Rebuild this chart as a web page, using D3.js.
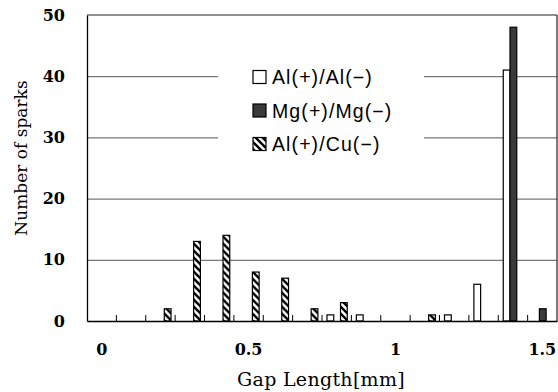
<!DOCTYPE html>
<html>
<head>
<meta charset="utf-8">
<script src="https://cdn.jsdelivr.net/npm/d3@7"></script>
<style>
  body { margin: 0; background: #fff; }
  svg { display: block; }
</style>
</head>
<body>
<svg id="chart"></svg>
<script>
// gap length bins (mm)
const categories = ['0', '0.1', '0.2', '0.3', '0.4', '0.5', '0.6', '0.7', '0.8', '0.9', '1', '1.1', '1.2', '1.3', '1.4', '1.5'];
const tickLabels = ['0', '0.5', '1', '1.5'];
const seriesNames = ['Al(+)/Al(−)', 'Mg(+)/Mg(−)', 'Al(+)/Cu(−)'];
const alAl = [0, 0, 0, 0, 0, 0, 0, 0, 1, 1, 0, 0, 1, 6, 41, 0];
const mgMg = [0, 0, 0, 0, 0, 0, 0, 0, 0, 0, 0, 0, 0, 0, 48, 2];
const alCu = [0, 0, 2, 13, 14, 8, 7, 2, 3, 0, 0, 1, 0, 0, 0, 0];
const yTicks = [0, 10, 20, 30, 40, 50];

const seriesValues = [alAl, mgMg, alCu];

const W = 558, H = 392;
const margin = { top: 15, right: 1, bottom: 71, left: 87 };
const width = W - margin.left - margin.right;
const height = H - margin.top - margin.bottom;

const svg = d3.select('#chart').attr('width', W).attr('height', H);

// hatch pattern for Al/Cu
const defs = svg.append('defs');
const pat = defs.append('pattern')
  .attr('id', 'hatch')
  .attr('patternUnits', 'userSpaceOnUse')
  .attr('width', 7).attr('height', 7);
pat.append('rect').attr('width', 7).attr('height', 7).attr('fill', '#fff');
pat.append('path')
  .attr('d', 'M-1,-1L8,8M-1,6L1,8M6,-1L8,1')
  .attr('stroke', '#000').attr('stroke-width', 2.4);

const fills = ['#fff', '#3a3a3a', 'url(#hatch)'];

const x = d3.scaleBand().domain(categories).range([0, width]).padding(0);
const bw = x.bandwidth();
const x1 = d3.scaleBand().domain(seriesNames).range([bw * 0.17, bw * 0.86]).padding(0);
const y = d3.scaleLinear().domain([0, 50]).range([height, 0]);

const chart = svg.append('g').attr('transform', `translate(${margin.left},${margin.top})`);

// gridlines
chart.append('g')
  .attr('class', 'grid')
  .call(d3.axisLeft(y).tickValues([10, 20, 30, 40]).tickSize(-width).tickFormat(''))
  .call(g => g.select('.domain').remove())
  .call(g => g.selectAll('line').attr('stroke', '#555').attr('stroke-width', 1));

// frame top/right
chart.append('line').attr('x1', 0).attr('x2', width).attr('y1', 0).attr('y2', 0)
  .attr('stroke', '#222').attr('stroke-width', 1.2);
chart.append('line').attr('x1', width).attr('x2', width).attr('y1', 0).attr('y2', height)
  .attr('stroke', '#222').attr('stroke-width', 1.2);

// bars
const rows = categories.map((c, i) => ({ c, vals: seriesValues.map((s, k) => ({ k, name: seriesNames[k], v: s[i] })) }));
const groups = chart.selectAll('g.cat')
  .data(rows)
  .enter()
  .append('g')
  .attr('class', 'cat')
  .attr('transform', d => `translate(${x(d.c)},0)`);

groups.selectAll('rect')
  .data(d => d.vals.filter(v => v.v > 0))
  .enter()
  .append('rect')
  .attr('x', d => x1(d.name))
  .attr('y', d => y(d.v))
  .attr('width', x1.bandwidth())
  .attr('height', d => height - y(d.v))
  .attr('fill', d => fills[d.k])
  .attr('stroke', '#000')
  .attr('stroke-width', 1.2);

// legend (white box hides gridlines)
const leg = chart.append('g').attr('transform', 'translate(131,43)');
leg.append('rect').attr('x', 0).attr('y', 0).attr('width', 206).attr('height', 104).attr('fill', '#fff');
seriesNames.forEach((name, k) => {
  const cy = 19 + k * 33.5;
  leg.append('rect')
    .attr('x', 35).attr('y', cy - 6.5)
    .attr('width', 13).attr('height', 13)
    .attr('fill', fills[k])
    .attr('stroke', '#000').attr('stroke-width', 1.2);
  leg.append('text')
    .attr('x', 54).attr('y', cy + 7)
    .attr('font-family', '"Liberation Sans", Arial, sans-serif')
    .attr('font-size', 19.5)
    .attr('letter-spacing', 1.1)
    .attr('fill', '#000')
    .text(name);
});

// x axis
const xAxis = chart.append('g')
  .attr('transform', `translate(0,${height})`)
  .call(d3.axisBottom(x).tickValues(tickLabels).tickSize(0).tickPadding(23));
xAxis.select('.domain').attr('stroke', '#000').attr('stroke-width', 1.3);
xAxis.selectAll('text')
  .attr('font-family', '"DejaVu Serif", serif')
  .attr('font-weight', 'bold')
  .attr('font-size', 16)
  .attr('fill', '#000');

// small ticks at bin boundaries, pointing up
chart.append('g')
  .selectAll('line')
  .data(categories.slice(1))
  .enter()
  .append('line')
  .attr('x1', d => x(d)).attr('x2', d => x(d))
  .attr('y1', height).attr('y2', height - 6)
  .attr('stroke', '#000').attr('stroke-width', 1);

// y axis
const yAxis = chart.append('g')
  .call(d3.axisLeft(y).tickValues(yTicks).tickSize(0).tickPadding(22));
yAxis.select('.domain').attr('stroke', '#000').attr('stroke-width', 1.3);
yAxis.selectAll('text')
  .attr('font-family', '"DejaVu Serif", serif')
  .attr('font-weight', 'bold')
  .attr('font-size', 16)
  .attr('fill', '#000');

// axis titles
svg.append('text')
  .attr('x', 321).attr('y', 386)
  .attr('text-anchor', 'middle')
  .attr('font-family', '"DejaVu Serif", serif')
  .attr('font-size', 19)
  .attr('letter-spacing', 0.3)
  .attr('fill', '#000')
  .text('Gap Length[mm]');

svg.append('text')
  .attr('transform', 'translate(27,158) rotate(-90)')
  .attr('text-anchor', 'middle')
  .attr('font-family', '"DejaVu Serif", serif')
  .attr('font-size', 17)
  .attr('fill', '#000')
  .text('Number of sparks');
</script>
</body>
</html>
